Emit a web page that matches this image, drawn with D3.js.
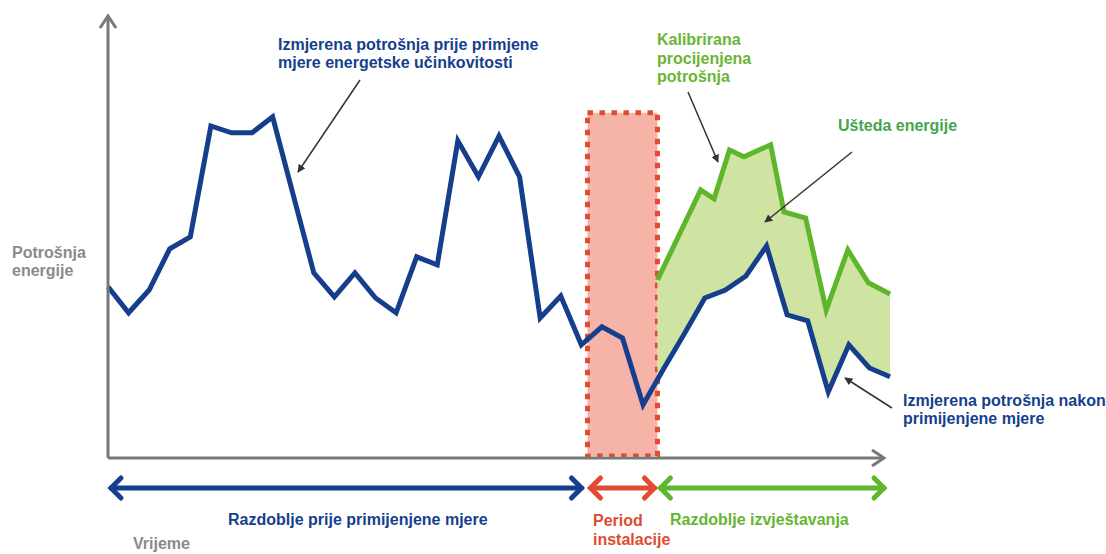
<!DOCTYPE html>
<html>
<head>
<meta charset="utf-8">
<script src="https://cdn.jsdelivr.net/npm/d3@7"></script>
<style>
  body { margin: 0; background: #fff; }
  text { font-family: 'Liberation Sans', Arial, sans-serif; font-weight: bold; font-size: 16px; }
</style>
</head>
<body>
<div class="chart"></div>
<script>
const svgWidth = 1106;
const svgHeight = 554;

// measured consumption, one value per time step (before + after the measure)
const measuredT = d3.range(0, 39);
const measured = [
  42.8, 36.3, 42, 52.3, 55.3, 83, 81.3, 81.3, 85.3, 65.8,
  46.3, 40.3, 46.3, 40, 36.3, 50.3, 48.3, 79.3, 70.3, 80.5,
  70.3, 35, 40.5, 28.3, 32.8, 30, 13.3, 22.3, 31, 40,
  42, 45.5, 53, 35.8, 34.3, 16.5, 28.3, 22.5, 20.3
];

// calibrated estimated consumption (reporting period only)
const calibratedT = [26.7, 28.8, 29.45, 30.2, 30.9, 32.2, 32.85, 33.9, 34.9, 35.95, 36.95, 38];
const calibrated = [44.5, 67, 64.8, 77, 75.3, 78.3, 61.5, 60, 37, 52, 43.8, 41];

// installation period
const installStart = 23.3;
const installEnd = 26.7;
const installTop = 86.3;

const colors = {
  blue: '#153f8d',
  green: '#5db62c',
  greenFill: '#cfe3a2',
  red: '#e04b32',
  redFill: '#f6b3a7',
  axis: '#787878',
  label: '#8a8a8a'
};

const x = d3.scaleLinear().domain([0, 38]).range([108, 890]);
const y = d3.scaleLinear().domain([0, 100]).range([458, 58]);

const svg = d3.select('.chart')
  .append('svg')
  .attr('width', svgWidth)
  .attr('height', svgHeight);

const defs = svg.append('defs');
defs.append('marker')
  .attr('id', 'tip')
  .attr('viewBox', '0 0 10 10')
  .attr('refX', 9)
  .attr('refY', 5)
  .attr('markerWidth', 8)
  .attr('markerHeight', 8)
  .attr('markerUnits', 'userSpaceOnUse')
  .attr('orient', 'auto')
  .append('path')
  .attr('d', 'M0,0 L10,5 L0,10 z')
  .attr('fill', '#333');

defs.append('clipPath')
  .attr('id', 'report')
  .append('rect')
  .attr('x', x(installEnd))
  .attr('y', 0)
  .attr('width', svgWidth)
  .attr('height', svgHeight);

// installation period box
svg.append('rect')
  .attr('x', x(installStart))
  .attr('y', y(installTop))
  .attr('width', x(installEnd) - x(installStart))
  .attr('height', y(0) - y(installTop) - 2)
  .attr('fill', colors.redFill)
  .attr('stroke', colors.red)
  .attr('stroke-width', 5)
  .attr('stroke-dasharray', '5.5,6.5');

// savings area: between calibrated and measured in the reporting period
const greenPts = calibratedT.map((t, i) => [x(t), y(calibrated[i])]);
const bluePts = measuredT.map((t, i) => [x(t), y(measured[i])]);
const backPts = bluePts.filter((p, i) => measuredT[i] >= Math.floor(installEnd)).reverse();
svg.append('path')
  .attr('clip-path', 'url(#report)')
  .attr('d', 'M' + greenPts.concat(backPts).join('L') + 'Z')
  .attr('fill', colors.greenFill);

const line = d3.line();

svg.append('path')
  .attr('d', line(greenPts))
  .attr('fill', 'none')
  .attr('stroke', colors.green)
  .attr('stroke-width', 5);

svg.append('path')
  .attr('d', line(bluePts))
  .attr('fill', 'none')
  .attr('stroke', colors.blue)
  .attr('stroke-width', 5);

// axes with open arrowheads
const x0 = x.range()[0];
const y0 = y.range()[0];
const axis = svg.append('g')
  .attr('fill', 'none')
  .attr('stroke', colors.axis)
  .attr('stroke-width', 3);
axis.append('path').attr('d', `M${x0},${y0}V16`);
axis.append('path').attr('d', `M${x0 - 8},28L${x0},16L${x0 + 8},28`);
axis.append('path').attr('d', `M${x0},${y0}H884`);
axis.append('path').attr('d', `M872,${y0 - 8}L884,${y0}L872,${y0 + 8}`);

// period arrows under the axis
function periodArrow(t1, t2, color, left, right) {
  const g = svg.append('g')
    .attr('fill', 'none')
    .attr('stroke', color)
    .attr('stroke-width', 5)
    .attr('stroke-linecap', 'round');
  const ay = 488;
  const a = x(t1) + left;
  const b = x(t2) - right;
  g.append('path').attr('d', `M${a},${ay}H${b}`);
  g.append('path').attr('d', `M${a + 10},${ay - 10}L${a},${ay}L${a + 10},${ay + 10}`);
  g.append('path').attr('d', `M${b - 10},${ay - 10}L${b},${ay}L${b - 10},${ay + 10}`);
}
periodArrow(0, installStart, colors.blue, 3, 6);
periodArrow(installStart, installEnd, colors.red, 3, 3);
periodArrow(installEnd, 38, colors.green, 3, 6);

// texts
function label(xp, yp, lines, color, lh) {
  const t = svg.append('text')
    .attr('x', xp)
    .attr('y', yp)
    .attr('fill', color);
  lines.forEach((s, i) => {
    t.append('tspan')
      .attr('x', xp)
      .attr('dy', i === 0 ? 0 : lh)
      .text(s);
  });
}

label(278, 50, ['Izmjerena potrošnja prije primjene', 'mjere energetske učinkovitosti'], colors.blue, 18);
label(657, 45, ['Kalibrirana', 'procijenjena', 'potrošnja'], '#6ab534', 18.5);
label(838, 131, ['Ušteda energije'], '#43a64c', 18);
label(903, 406, ['Izmjerena potrošnja nakon', 'primijenjene mjere'], colors.blue, 18);
label(12, 258, ['Potrošnja', 'energije'], colors.label, 18);
label(228, 525, ['Razdoblje prije primijenjene mjere'], colors.blue, 18);
label(593, 526, ['Period', 'instalacije'], colors.red, 19);
label(670, 525, ['Razdoblje izvještavanja'], '#66b432', 18);
label(133, 549, ['Vrijeme'], colors.label, 18);

// annotation arrows
const pointers = [
  [360, 80, 298, 172],
  [688, 92, 718, 162],
  [852, 152, 765, 222],
  [892, 408, 845, 378]
];
svg.selectAll('line.pointer')
  .data(pointers)
  .enter()
  .append('line')
  .attr('class', 'pointer')
  .attr('x1', d => d[0])
  .attr('y1', d => d[1])
  .attr('x2', d => d[2])
  .attr('y2', d => d[3])
  .attr('stroke', '#333')
  .attr('stroke-width', 1.5)
  .attr('marker-end', 'url(#tip)');
</script>
</body>
</html>
